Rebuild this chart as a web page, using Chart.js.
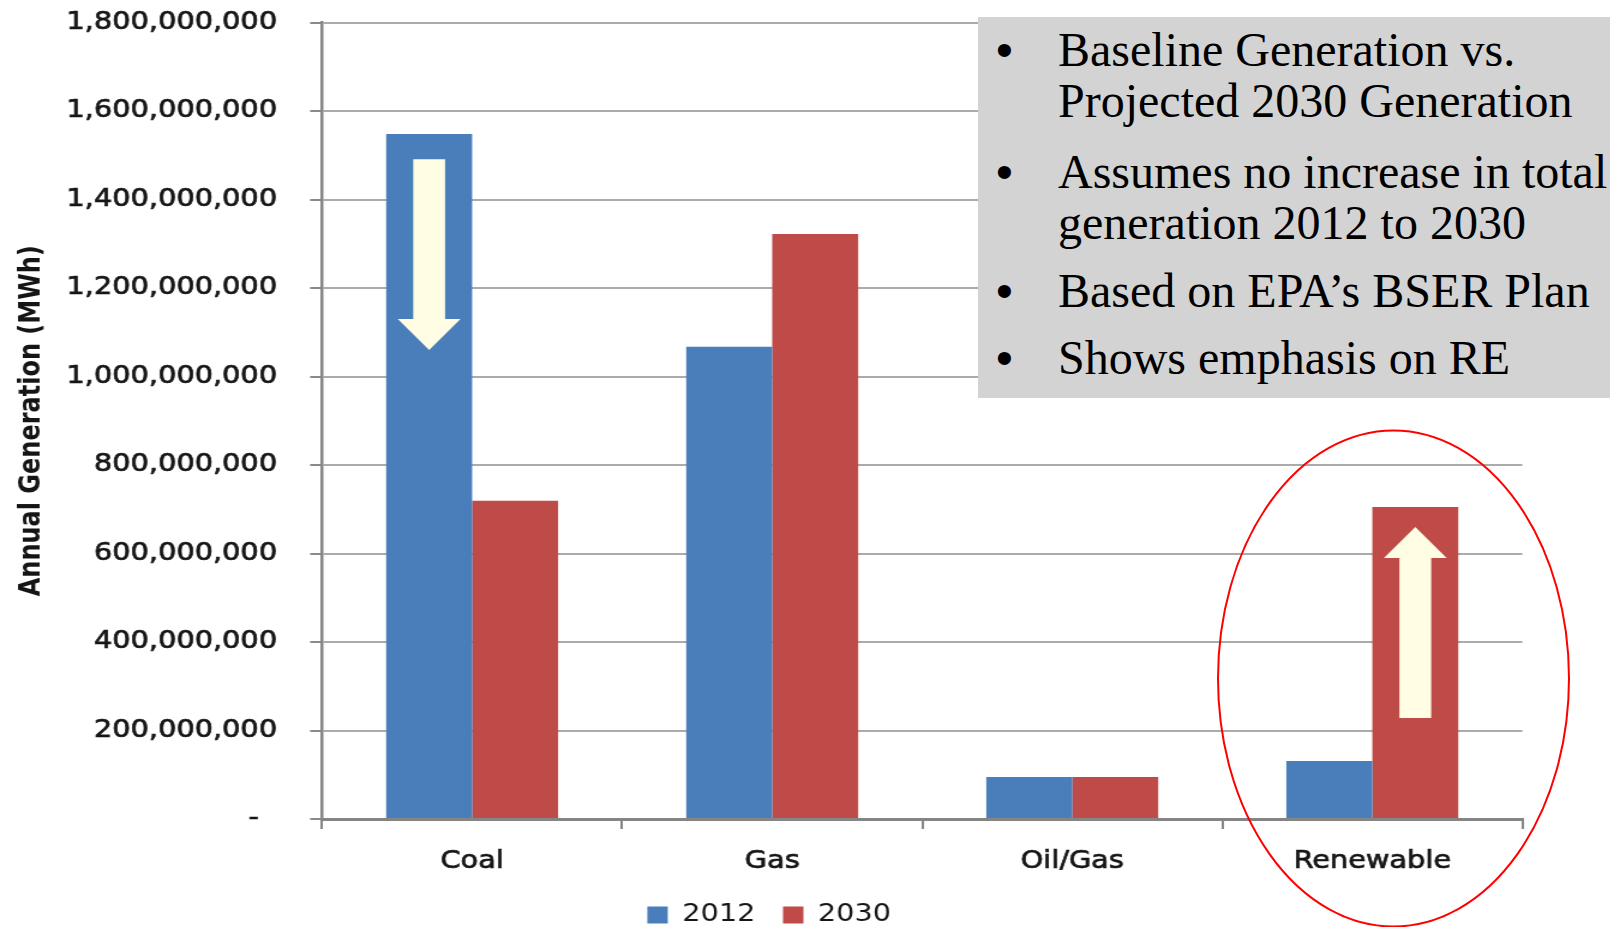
<!DOCTYPE html>
<html>
<head>
<meta charset="utf-8">
<title>Annual Generation 2012 vs 2030</title>
<script src="https://cdn.jsdelivr.net/npm/chart.js@4/dist/chart.umd.min.js"></script>
<style>
  html, body { margin: 0; padding: 0; background: #fff; }
  #stage { position: relative; width: 1610px; height: 927px; overflow: hidden; background: #fff; }
  /* the chart artwork is drawn narrow and widened horizontally */
  #chart { position: absolute; left: 0; top: 0; transform: scaleX(1.2); transform-origin: 0 0; }
  #notes {
    position: absolute; left: 978px; top: 17px; width: 632px; height: 381px;
    background: #D3D3D3; color: #000;
    font-family: "Liberation Serif", "Times New Roman", serif; font-size: 48px;
  }
  .item { position: absolute; left: 0; width: 100%; }
  .dot { position: absolute; left: 18px; top: 0; line-height: 51px; font-family: "Liberation Sans", Arial, sans-serif; }
  .txt { position: absolute; left: 80px; top: 0; line-height: 51px; white-space: nowrap; }
  #ring { position: absolute; left: 0; top: 0; pointer-events: none; }
</style>
</head>
<body>
<div id="stage">
  <canvas id="chart" width="1342" height="927"></canvas>
  <div id="notes">
    <div class="item" style="top:7px"><span class="dot">•</span><span class="txt">Baseline Generation vs.<br>Projected 2030 Generation</span></div>
    <div class="item" style="top:129px"><span class="dot">•</span><span class="txt">Assumes no increase in total<br>generation 2012 to 2030</span></div>
    <div class="item" style="top:248px"><span class="dot">•</span><span class="txt">Based on EPA’s BSER Plan</span></div>
    <div class="item" style="top:315px"><span class="dot">•</span><span class="txt">Shows emphasis on RE</span></div>
  </div>
  <svg id="ring" width="1610" height="927">
    <ellipse cx="1393.5" cy="678.5" rx="175.5" ry="248" fill="none" stroke="#FF0000" stroke-width="2"/>
  </svg>
</div>
<script>
// Generation by fuel type (MWh)
const categories = ['Coal', 'Gas', 'Oil/Gas', 'Renewable'];
const seriesLabels = ['2012', '2030'];
const gen2012 = [1548e6, 1067e6, 95e6, 131e6];
const gen2030 = [719e6, 1322e6, 95e6, 705e6];
const seriesColors = ['#4A7EBB', '#BE4B48'];

// Trend arrows drawn inside bars: category, series index, tail value, tip value
const arrowCategory = ['Coal', 'Renewable'];
const arrowSeries = [0, 1];
const arrowFrom = [1491e6, 228e6];
const arrowTo = [1060e6, 660e6];

const FONT = 'DejaVu Sans';
const INK = '#151515';
const LEGEND_FONT = 24, LEGEND_PAD = 23, LEGEND_BOX_W = 17, LEGEND_BOX_H = 17;

const trendArrows = {
  id: 'trendArrows',
  afterDatasetsDraw(chart) {
    const ctx = chart.ctx;
    const yScale = chart.scales.y;
    arrowCategory.forEach((cat, k) => {
      const bar = chart.getDatasetMeta(arrowSeries[k]).data[categories.indexOf(cat)];
      const cx = bar.x, w = bar.width;
      const y0 = yScale.getPixelForValue(arrowFrom[k]);
      const y1 = yScale.getPixelForValue(arrowTo[k]);
      const dir = y1 > y0 ? 1 : -1;
      const shaft = w * 0.37 / 2, head = w * 0.73 / 2, headLen = 31;
      const yb = y1 - dir * headLen;
      ctx.save();
      ctx.fillStyle = '#FFFEE4';
      ctx.beginPath();
      ctx.moveTo(cx - shaft, y0);
      ctx.lineTo(cx + shaft, y0);
      ctx.lineTo(cx + shaft, yb);
      ctx.lineTo(cx + head, yb);
      ctx.lineTo(cx, y1);
      ctx.lineTo(cx - head, yb);
      ctx.lineTo(cx - shaft, yb);
      ctx.closePath();
      ctx.fill();
      ctx.restore();
    });
  }
};

// nudges the legend row under the plot
const legendPlace = {
  id: 'legendPlace',
  afterLayout(chart) {
    const lg = chart.legend;
    if (!lg) return;
    const itemH = Math.max(LEGEND_FONT, LEGEND_BOX_H);
    const dy = 915 - (lg.top + LEGEND_PAD + itemH / 2);
    const dx = 641 - (lg.left + lg.right) / 2;
    lg.top += dy; lg.bottom += dy;
    lg.left += dx; lg.right += dx;
  }
};

new Chart(document.getElementById('chart'), {
  type: 'bar',
  data: {
    labels: categories,
    datasets: [
      { label: seriesLabels[0], data: gen2012, backgroundColor: seriesColors[0], borderWidth: 0,
        barPercentage: 1, categoryPercentage: 0.573 },
      { label: seriesLabels[1], data: gen2030, backgroundColor: seriesColors[1], borderWidth: 0,
        barPercentage: 1, categoryPercentage: 0.573 }
    ]
  },
  options: {
    responsive: false,
    animation: false,
    devicePixelRatio: 1,
    layout: { padding: { top: 22.5, right: 73.4, bottom: 0, left: 0 } },
    scales: {
      x: {
        ticks: { font: { family: FONT, size: 24 }, color: INK, padding: 18, maxRotation: 0,
                 textStrokeColor: INK, textStrokeWidth: 0.7 },
        grid: { drawOnChartArea: false, drawTicks: true, tickLength: 10, color: '#858585', lineWidth: 2 },
        border: { color: '#858585', width: 3 },
        afterFit(s) { s.height = 51; }
      },
      y: {
        min: 0,
        max: 1.8e9,
        ticks: {
          stepSize: 2e8,
          font: { family: FONT, size: 24 },
          color: INK,
          textStrokeColor: INK,
          textStrokeWidth: 0.7,
          padding: 27.5,
          callback: v => v === 0 ? '-  ' : Number(v).toLocaleString('en-US')
        },
        grid: { color: '#ABABAB', lineWidth: 2, tickLength: 10, tickColor: '#8A8A8A', drawTicks: true },
        border: { color: '#858585', width: 2.5 },
        title: {
          display: true,
          text: 'Annual Generation (MWh)',
          font: { family: FONT, size: 24, weight: 'bold' },
          color: INK,
          padding: { top: 12, bottom: 0 }
        },
        afterFit(s) {
          s.width = 268.4;
          // the wide label gap should not push the plot down from the top edge
          s.paddingTop = 0;
          s.paddingBottom = 0;
        }
      }
    },
    plugins: {
      legend: {
        position: 'bottom',
        labels: {
          boxWidth: LEGEND_BOX_W,
          boxHeight: LEGEND_BOX_H,
          padding: LEGEND_PAD,
          font: { family: FONT, size: LEGEND_FONT },
          color: INK
        }
      },
      tooltip: { enabled: false }
    }
  },
  plugins: [trendArrows, legendPlace]
});
</script>
</body>
</html>
